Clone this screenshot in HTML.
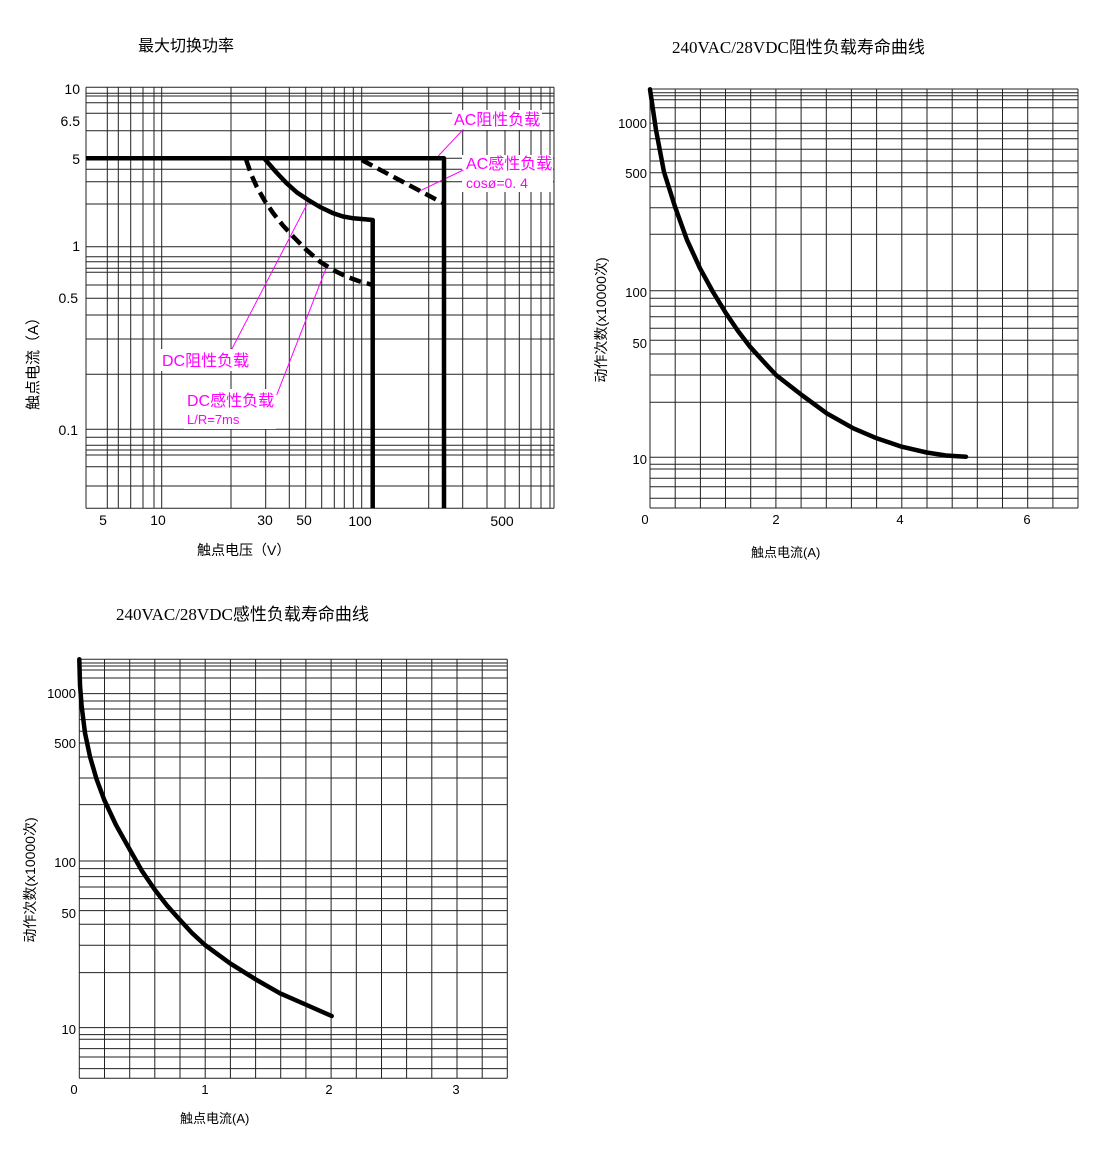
<!DOCTYPE html>
<html><head><meta charset="utf-8"><style>
html,body{margin:0;padding:0;background:#fff;}
svg{display:block;}
text{font-family:"Liberation Sans","Noto Sans CJK SC",sans-serif;fill:#000;}
.t{font-family:"Liberation Serif","Noto Sans CJK SC",serif;font-size:17px;}
.m{fill:#f0f;font-size:16px;}
</style></head><body>
<svg width="1100" height="1150" viewBox="0 0 1100 1150" xmlns="http://www.w3.org/2000/svg">
<rect width="1100" height="1150" fill="#fff"/>
<g stroke="#222" stroke-width="1" fill="none">
<path d="M86 87.3V508.3M107.3 87.3V508.3M118.3 87.3V508.3M130.7 87.3V508.3M143 87.3V508.3M154 87.3V508.3M161.7 87.3V508.3M231 87.3V508.3M265.7 87.3V508.3M289.3 87.3V508.3M305.7 87.3V508.3M321.7 87.3V508.3M334.3 87.3V508.3M344.3 87.3V508.3M353.3 87.3V508.3M361.7 87.3V508.3M428.7 87.3V508.3M462.7 87.3V508.3M487 87.3V508.3M505 87.3V508.3M519.3 87.3V508.3M531 87.3V508.3M541 87.3V508.3M550 87.3V508.3M554 87.3V508.3"/>
<path d="M86 87.3H554M86 93.3H554M86 96H554M86 102.7H554M86 113.3H554M86 130.7H554M86 158.3H554M86 169.3H554M86 181.7H554M86 204H554M86 246.7H554M86 256.7H554M86 261.7H554M86 268.3H554M86 272.3H554M86 285H554M86 298.3H554M86 315H554M86 339H554M86 374.3H554M86 429.3H554M86 437.3H554M86 445.3H554M86 450H554M86 455H554M86 466.7H554M86 486H554M86 508.3H554"/>
</g>
<rect x="452" y="110" width="90" height="20" fill="#fff"/>
<rect x="462" y="155" width="91" height="37" fill="#fff"/>
<rect x="160" y="349" width="90" height="22" fill="#fff"/>
<rect x="184" y="389" width="92" height="40" fill="#fff"/>
<g stroke="#f0f" stroke-width="1" fill="none">
<path d="M463.3 129.3L438.3 156M463.3 170L418.3 191.7M308.3 201.7L231.7 349.3M326.7 266.7L276.7 395"/>
</g>
<g stroke="#000" stroke-width="4.5" fill="none" stroke-linejoin="round" stroke-linecap="round">
<path d="M86 158.3H444V508M372.7 220V508" stroke-linecap="butt"/>
<polyline points="265,159.3 276,172 286.7,183.3 297,192.5 308.3,200 320,207 333.3,213.3 343,216.5 353.3,218.3 372.7,220"/>
<polyline stroke-dasharray="12,6" stroke-linecap="butt" points="246,159.3 251,174 256.7,186.7 264.5,200.5 273.3,213.3 283,225.5 293.3,236.7 306,249.5 320,261.7 333,270 346.7,276.7 360,281.5 372.7,285"/>
<polyline stroke-dasharray="12,6" stroke-linecap="butt" points="361.7,160 443.3,203.3"/>
</g>
<text class="m" x="454" y="125">AC阻性负载</text>
<text class="m" x="466" y="169">AC感性负载</text>
<text class="m" x="466" y="188" style="font-size:14px">cosø=0. 4</text>
<text class="m" x="162" y="366">DC阻性负载</text>
<text class="m" x="187" y="406">DC感性负载</text>
<text class="m" x="187" y="424" style="font-size:13px">L/R=7ms</text>
<g font-size="14" text-anchor="end">
<text x="80" y="94">10</text><text x="80" y="126">6.5</text><text x="80" y="164">5</text>
<text x="80" y="251">1</text><text x="78" y="303">0.5</text><text x="78" y="435">0.1</text>
</g>
<g font-size="14" text-anchor="middle">
<text x="103" y="525">5</text><text x="158" y="525">10</text><text x="265" y="525">30</text>
<text x="304" y="525">50</text><text x="360" y="526">100</text><text x="502" y="526">500</text>
</g>
<text x="138" y="51" font-size="16">最大切换功率</text>
<text x="197" y="555" font-size="14">触点电压（V）</text>
<text transform="translate(38,360) rotate(-90)" font-size="15" text-anchor="middle">触点电流（A）</text>

<g id="g2" stroke="#222" stroke-width="1" fill="none">
<path d="M650 89V508M675.2 89V508M700.4 89V508M725.5 89V508M750.7 89V508M775.9 89V508M801.1 89V508M826.3 89V508M851.4 89V508M876.6 89V508M901.8 89V508M927 89V508M952.2 89V508M977.3 89V508M1002.5 89V508M1027.7 89V508M1052.9 89V508M1078 89V508"/>
<path d="M650 89H1078M650 92.7H1078M650 95.7H1078M650 99.7H1078M650 107.7H1078M650 123.3H1078M650 130.7H1078M650 138.7H1078M650 149.3H1078M650 161H1078M650 172.7H1078M650 186.7H1078M650 207.7H1078M650 234.3H1078M650 290.7H1078M650 298.3H1078M650 306.3H1078M650 316.7H1078M650 328.3H1078M650 340.3H1078M650 354H1078M650 375H1078M650 402.3H1078M650 457.3H1078M650 464.3H1078M650 469H1078M650 478.3H1078M650 486.7H1078M650 498.3H1078M650 508H1078"/>
</g>
<polyline fill="none" stroke="#000" stroke-width="4.5" stroke-linecap="round" stroke-linejoin="round" points="650,89.3 656,130 664,172 675,206.7 687,240 700,268.3 713,292 726,313.3 738,331 750,346.7 763,361 776,375 801.7,395 826.7,413.3 853.3,428.3 876.7,438.3 901.7,446.7 926.7,452.5 946,455.5 966,456.7"/>
<g font-size="13" text-anchor="end">
<text x="647" y="128">1000</text><text x="647" y="178">500</text><text x="647" y="297">100</text>
<text x="647" y="348">50</text><text x="647" y="464">10</text>
</g>
<g font-size="13" text-anchor="middle">
<text x="645" y="524">0</text><text x="776" y="524">2</text><text x="900" y="524">4</text><text x="1027" y="524">6</text>
</g>
<text class="t" x="672" y="53">240VAC/28VDC阻性负载寿命曲线</text>
<text x="751" y="557" font-size="13">触点电流(A)</text>
<text transform="translate(606,320) rotate(-90)" font-size="14" text-anchor="middle">动作次数(x10000次)</text>

<use href="#g2" transform="translate(-570.7,570.3)"/>
<polyline fill="none" stroke="#000" stroke-width="4.5" stroke-linecap="round" stroke-linejoin="round" points="79.3,659.3 80,685 81.7,706.7 85,733 90,756.7 96.5,779 104.3,800 116,825 130,850 142,871 155,890 167,905.5 180,920 192,933 205,945 230,963.3 256.7,980 280,993.3 306.7,1005 331.7,1016"/>
<g font-size="13" text-anchor="end">
<text x="76" y="698">1000</text><text x="76" y="748">500</text><text x="76" y="867">100</text>
<text x="76" y="918">50</text><text x="76" y="1034">10</text>
</g>
<g font-size="13" text-anchor="middle">
<text x="74" y="1094">0</text><text x="205" y="1094">1</text><text x="329" y="1094">2</text><text x="456" y="1094">3</text>
</g>
<text class="t" x="116" y="620">240VAC/28VDC感性负载寿命曲线</text>
<text x="180" y="1123" font-size="13">触点电流(A)</text>
<text transform="translate(35,880) rotate(-90)" font-size="14" text-anchor="middle">动作次数(x10000次)</text>
</svg>
</body></html>
